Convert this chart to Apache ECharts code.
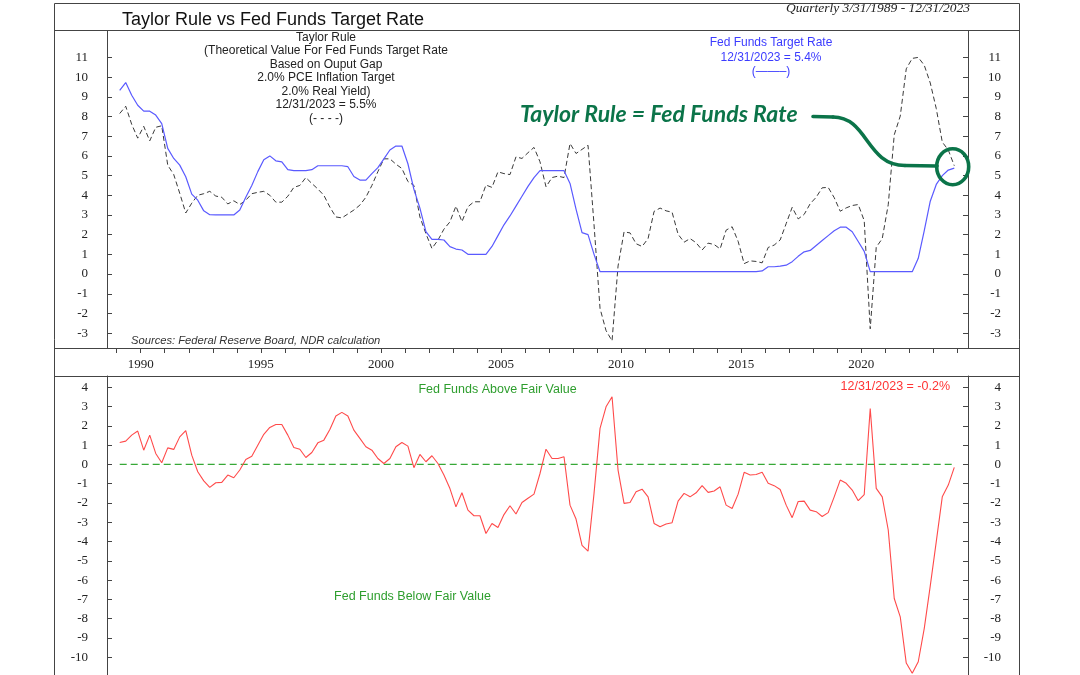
<!DOCTYPE html>
<html><head><meta charset="utf-8">
<script src="https://cdn.jsdelivr.net/npm/echarts@6/dist/echarts.min.js"></script>
<style>html,body{margin:0;padding:0;background:#fff}#c{width:1080px;height:675px}</style>
</head><body><div id="c"></div>
<script>
// Quarterly 1989Q1 .. 2023Q4
const startYear = 1989;

// Fed Funds target rate (blue), by quarter
const fedFunds = [
  9.33, 9.72, 9.08, 8.57,   // 1989
  8.27, 8.27, 8.07, 7.64,   // 1990
  6.38, 5.87, 5.53, 4.94,   // 1991
  4.06, 3.75, 3.21, 3.01,   // 1992
  3.0, 3.0, 3.0, 3.0,       // 1993
  3.25, 3.9, 4.5, 5.2,      // 1994
  5.8, 6.0, 5.75, 5.7,      // 1995
  5.3, 5.25, 5.25, 5.25,    // 1996
  5.3, 5.5, 5.5, 5.5,       // 1997
  5.5, 5.5, 5.45, 4.95,     // 1998
  4.77, 4.77, 5.1, 5.4,     // 1999
  5.85, 6.3, 6.5, 6.5,      // 2000
  5.6, 4.3, 3.35, 2.15,     // 2001
  1.76, 1.76, 1.73, 1.39,   // 2002
  1.27, 1.22, 1.0, 1.0,     // 2003
  1.0, 1.0, 1.4, 1.95,      // 2004
  2.5, 2.95, 3.45, 3.95,    // 2005
  4.45, 4.9, 5.25, 5.25,    // 2006
  5.25, 5.25, 5.25, 4.6,    // 2007
  3.3, 2.1, 2.0, 1.0,       // 2008
  0.12, 0.12, 0.12, 0.12,   // 2009
  0.12, 0.12, 0.12, 0.12,   // 2010
  0.12, 0.12, 0.12, 0.12,   // 2011
  0.12, 0.12, 0.12, 0.12,   // 2012
  0.12, 0.12, 0.12, 0.12,   // 2013
  0.12, 0.12, 0.12, 0.12,   // 2014
  0.12, 0.12, 0.12, 0.16,   // 2015
  0.37, 0.37, 0.4, 0.45,    // 2016
  0.63, 0.9, 1.13, 1.2,     // 2017
  1.45, 1.7, 1.95, 2.2,     // 2018
  2.38, 2.38, 2.15, 1.65,   // 2019
  1.15, 0.12, 0.12, 0.12,   // 2020
  0.12, 0.12, 0.12, 0.12,   // 2021
  0.12, 0.8, 2.2, 3.7,      // 2022
  4.55, 5.0, 5.28, 5.38     // 2023
];

// Taylor Rule (dashed), by quarter
const taylorRule = [
  8.15, 8.52, 7.6, 6.9,     // 1989
  7.5, 6.76, 7.45, 7.53,    // 1990
  5.53, 5.05, 4.1, 3.1,     // 1991
  3.6, 4.0, 4.08, 4.2,      // 1992
  3.96, 3.9, 3.56, 3.72,    // 1993
  3.53, 3.75, 4.08, 4.15,   // 1994
  4.2, 4.0, 3.65, 3.65,     // 1995
  3.95, 4.4, 4.5, 4.9,      // 1996
  4.6, 4.32, 4.0, 3.4,      // 1997
  2.9, 2.85, 3.05, 3.25,    // 1998
  3.5, 3.9, 4.5, 5.2,       // 1999
  5.85, 5.85, 5.58, 5.36,   // 2000
  4.7, 4.5, 2.9, 2.05,      // 2001
  1.3, 1.72, 2.28, 2.65,    // 2002
  3.45, 2.66, 3.42, 3.67,   // 2003
  3.67, 4.52, 4.4, 5.19,    // 2004
  5.1, 5.05, 5.95, 5.87,    // 2005
  6.16, 6.43, 5.7, 4.43,    // 2006
  4.9, 4.97, 4.9, 6.63,     // 2007
  6.12, 6.33, 6.54, 2.5,    // 2008
  -1.75, -2.87, -3.39, 0.41,// 2009
  2.14, 2.09, 1.54, 1.40,   // 2010
  1.80, 3.18, 3.35, 3.21,   // 2011
  3.14, 2.02, 1.62, 1.80,   // 2012
  1.59, 1.22, 1.57, 1.5,    // 2013
  1.28, 2.23, 2.40, 1.66,   // 2014
  0.53, 0.67, 0.64, 0.57,   // 2015
  1.35, 1.47, 1.73, 2.56,   // 2016
  3.39, 2.8, 3.03, 3.57,    // 2017
  3.9, 4.38, 4.4, 3.88,     // 2018
  3.19, 3.36, 3.48, 3.53,   // 2019
  2.71, -2.78, 1.36, 1.8,   // 2020
  3.52, 7.07, 8.02, 10.42,  // 2021
  10.95, 11.0, 10.6, 9.7,   // 2022
  8.4, 6.7, 6.3, 5.5        // 2023
];

// Fed Funds minus Taylor Rule (red), by quarter
const gap = [
  1.14, 1.21, 1.52, 1.73,   // 1989
  0.74, 1.52, 0.57, 0.09,   // 1990
  0.86, 0.78, 1.43, 1.75,   // 1991
  0.48, -0.38, -0.85, -1.19,// 1992
  -0.95, -0.93, -0.55, -0.69,// 1993
  -0.29, 0.26, 0.43, 1.0,   // 1994
  1.56, 1.92, 2.07, 2.07,   // 1995
  1.52, 0.88, 0.79, 0.36,   // 1996
  0.62, 1.12, 1.26, 1.81,   // 1997
  2.51, 2.7, 2.51, 1.78,    // 1998
  1.35, 0.92, 0.74, 0.31,   // 1999
  0.05, 0.31, 0.92, 1.14,   // 2000
  0.95, -0.17, 0.52, 0.14,  // 2001
  0.45, 0.05, -0.55, -1.25, // 2002
  -2.2, -1.47, -2.37, -2.66,// 2003
  -2.66, -3.58, -3.06, -3.27,// 2004
  -2.6, -2.14, -2.57, -1.97,// 2005
  -1.75, -1.54, -0.47, 0.79,// 2006
  0.31, 0.31, 0.40, -2.11,  // 2007
  -2.83, -4.2, -4.5, -1.5,  // 2008
  1.87, 2.99, 3.51, -0.29,  // 2009
  -2.02, -1.97, -1.42, -1.28,// 2010
  -1.68, -3.06, -3.23, -3.09,// 2011
  -3.02, -1.9, -1.5, -1.68, // 2012
  -1.47, -1.1, -1.45, -1.38,// 2013
  -1.16, -2.11, -2.28, -1.54,// 2014
  -0.41, -0.55, -0.52, -0.41,// 2015
  -0.98, -1.1, -1.3, -2.11, // 2016
  -2.76, -1.92, -1.9, -2.37,// 2017
  -2.45, -2.7, -2.5, -1.68, // 2018
  -0.81, -0.98, -1.33, -1.88,// 2019
  -1.56, 2.9, -1.24, -1.68, // 2020
  -3.4, -6.95, -7.9, -10.3, // 2021
  -10.83, -10.23, -8.5, -6.3,// 2022
  -4.0, -1.68, -1.07, -0.15 // 2023
];

const yearTicks = [1989,1990,1991,1992,1993,1994,1995,1996,1997,1998,1999,2000,2001,2002,2003,2004,2005,2006,2007,2008,2009,2010,2011,2012,2013,2014,2015,2016,2017,2018,2019,2020,2021,2022,2023,2024];
const yearLabels = [1990, 1995, 2000, 2005, 2010, 2015, 2020];
const topTicks = [-3,-2,-1,0,1,2,3,4,5,6,7,8,9,10,11];
const bottomTicks = [-10,-9,-8,-7,-6,-5,-4,-3,-2,-1,0,1,2,3,4];

// x position of each quarter (mid-quarter, in decimal years)
const xPos = fedFunds.map((_, i) => startYear + 0.125 + 0.25 * i);
const pairs = arr => arr.map((v, i) => [xPos[i], v]);

const AX = '#444';
const GREEN = '#0b7449';
const serif = '"Liberation Serif", "Times New Roman", serif';
const sans = '"Liberation Sans", Arial, sans-serif';

const X_MIN = 1988.596, X_MAX = 2024.446;

function xAxisCfg(grid, showStuff) {
  return {
    type: 'value', gridIndex: grid, min: X_MIN, max: X_MAX,
    position: showStuff ? 'bottom' : 'top',
    axisLine: { show: true, onZero: false, lineStyle: { color: AX, width: 1 } },
    axisTick: { show: showStuff, inside: false, length: 5, customValues: yearTicks, lineStyle: { color: AX } },
    axisLabel: { show: showStuff, customValues: yearLabels, margin: 10, fontFamily: serif, fontSize: 13, color: '#222',
      formatter: v => String(Math.round(v)) },
    splitLine: { show: false }
  };
}
function yAxisCfg(grid, pos, min, max, ticks) {
  return {
    type: 'value', gridIndex: grid, position: pos, min: min, max: max,
    axisLine: { show: true, onZero: false, lineStyle: { color: AX, width: 1 } },
    axisTick: { show: true, inside: true, length: 5, customValues: ticks, lineStyle: { color: AX } },
    axisLabel: { customValues: ticks, margin: pos === 'left' ? 19 : 33, align: 'right',
      fontFamily: serif, fontSize: 13, color: '#222', formatter: v => String(Math.round(v)) },
    splitLine: { show: false }
  };
}

const chart = echarts.init(document.getElementById('c'), null, { renderer: 'canvas' });
chart.setOption({
  animation: false,
  backgroundColor: '#fff',
  grid: [
    { left: 107, right: 112, top: 31, height: 317 },
    { left: 107, right: 112, top: 376, bottom: 0 }
  ],
  xAxis: [xAxisCfg(0, true), xAxisCfg(1, false)],
  yAxis: [
    yAxisCfg(0, 'left', -3.754, 12.34, topTicks),
    yAxisCfg(0, 'right', -3.754, 12.34, topTicks),
    yAxisCfg(1, 'left', -10.918, 4.586, bottomTicks),
    yAxisCfg(1, 'right', -10.918, 4.586, bottomTicks)
  ],
  series: [
    { name: 'Taylor Rule', type: 'line', xAxisIndex: 0, yAxisIndex: 0, data: pairs(taylorRule),
      showSymbol: false, silent: true, lineStyle: { color: '#3a3a3a', width: 1, type: [5, 3] }, z: 3 },
    { name: 'Fed Funds Target Rate', type: 'line', xAxisIndex: 0, yAxisIndex: 0, data: pairs(fedFunds),
      showSymbol: false, silent: true, lineStyle: { color: '#5a5aff', width: 1.2 }, z: 4 },
    { name: 'Zero', type: 'line', xAxisIndex: 1, yAxisIndex: 2,
      data: [[xPos[0], 0], [xPos[xPos.length - 1], 0]],
      showSymbol: false, silent: true, lineStyle: { color: '#37a837', width: 1.2, type: [7, 4] }, z: 2 },
    { name: 'Gap', type: 'line', xAxisIndex: 1, yAxisIndex: 2, data: pairs(gap),
      showSymbol: false, silent: true, lineStyle: { color: '#ff4a4a', width: 1.1 }, z: 3 }
  ],
  graphic: [
    { type: 'rect', z: 50, silent: true, shape: { x: 54.5, y: 3.5, width: 965, height: 720 },
      style: { fill: 'none', stroke: AX, lineWidth: 1 } },
    { type: 'line', z: 50, silent: true, shape: { x1: 54, y1: 30.5, x2: 1020, y2: 30.5 }, style: { stroke: AX, lineWidth: 1 } },
    { type: 'line', z: 50, silent: true, shape: { x1: 54, y1: 348.5, x2: 1020, y2: 348.5 }, style: { stroke: AX, lineWidth: 1 } },
    { type: 'line', z: 50, silent: true, shape: { x1: 54, y1: 376.5, x2: 1020, y2: 376.5 }, style: { stroke: AX, lineWidth: 1 } },

    { type: 'text', z: 60, x: 122, y: 19.7, style: { text: 'Taylor Rule vs Fed Funds Target Rate',
      font: '18px ' + sans, fill: '#111', align: 'left', verticalAlign: 'middle' } },
    { type: 'text', z: 60, x: 970, y: 8.5, style: { text: 'Quarterly 3/31/1989 - 12/31/2023',
      font: 'italic 13.5px ' + serif, fill: '#222', align: 'right', verticalAlign: 'middle' } },
    { type: 'text', z: 60, x: 326, y: 30.5, style: {
      text: 'Taylor Rule\n(Theoretical Value For Fed Funds Target Rate\nBased on Ouput Gap\n2.0% PCE Inflation Target\n2.0% Real Yield)\n12/31/2023 = 5.5%\n(- - - -)',
      font: '12px ' + sans, lineHeight: 13.5, fill: '#222', align: 'center', verticalAlign: 'top' } },
    { type: 'text', z: 60, x: 771, y: 35.5, style: {
      text: 'Fed Funds Target Rate\n12/31/2023 = 5.4%\n(\u2014\u2014\u2013)',
      font: '12px ' + sans, lineHeight: 14.5, fill: '#3b3bff', align: 'center', verticalAlign: 'top' } },
    { type: 'text', z: 60, x: 131, y: 341, style: { text: 'Sources: Federal Reserve Board, NDR calculation',
      font: 'italic 11.2px ' + sans, fill: '#333', align: 'left', verticalAlign: 'middle' } },
    { type: 'text', z: 60, x: 497.5, y: 390, style: { text: 'Fed Funds Above Fair Value',
      font: '12.5px ' + sans, fill: '#2e9e2e', align: 'center', verticalAlign: 'middle' } },
    { type: 'text', z: 60, x: 412.5, y: 597, style: { text: 'Fed Funds Below Fair Value',
      font: '12.5px ' + sans, fill: '#2e9e2e', align: 'center', verticalAlign: 'middle' } },
    { type: 'text', z: 60, x: 950, y: 387, style: { text: '12/31/2023 = -0.2%',
      font: '12.5px ' + sans, fill: '#ff3434', align: 'right', verticalAlign: 'middle' } },

    { type: 'text', z: 60, x: 520, y: 114.5, style: { text: 'Taylor Rule = Fed Funds Rate',
      font: 'italic bold 23px Lato, "Open Sans", sans-serif', fill: GREEN, align: 'left', verticalAlign: 'middle' } },
    { type: 'line', z: 60, silent: true, shape: { x1: 813, y1: 116.5, x2: 833, y2: 117 },
      style: { stroke: GREEN, lineWidth: 3.6, lineCap: 'round' } },
    { type: 'bezierCurve', z: 60, silent: true,
      shape: { x1: 833, y1: 117, cpx1: 868, cpy1: 117, cpx2: 866, cpy2: 165.5, x2: 905, y2: 165.5 },
      style: { stroke: GREEN, lineWidth: 3.6, fill: 'none', lineCap: 'round' } },
    { type: 'line', z: 60, silent: true, shape: { x1: 905, y1: 165.5, x2: 937, y2: 166 },
      style: { stroke: GREEN, lineWidth: 3.6, lineCap: 'round' } },
    { type: 'ellipse', z: 60, silent: true, shape: { cx: 952.7, cy: 166.7, rx: 16, ry: 18 },
      style: { fill: 'none', stroke: GREEN, lineWidth: 3.6 } }
  ]
});
</script></body></html>
